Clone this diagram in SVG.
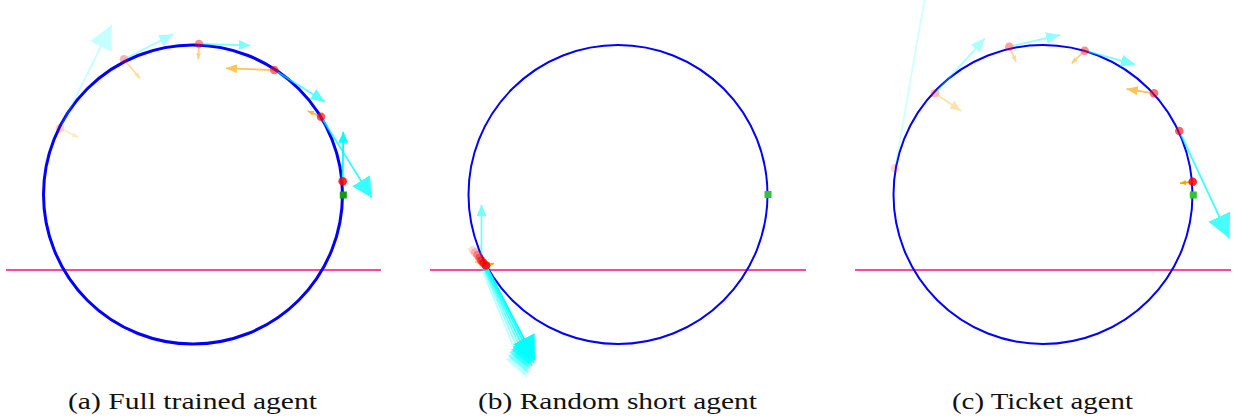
<svg xmlns="http://www.w3.org/2000/svg" width="1233" height="418" viewBox="0 0 1233 418">
<style>
.bg{fill:#ffffff}
.orbit{fill:none;stroke:#0000ff;stroke-width:2}
.orbit-a{fill:none;stroke:#0000ff;stroke-width:3}
.floor{stroke:#ff0a7a;stroke-width:1.3}
.vel{stroke:#00ffff;stroke-width:1.8;fill:none}
.frc{stroke:#ffa500;stroke-width:1.8;fill:none}
.pos{fill:#ff0000;fill-opacity:0.85}
.goal{fill:#33c433}
.goal-a{fill:#149a14}
.cap{font-family:'Liberation Serif','Times New Roman',serif;font-size:24px;fill:#111111;text-anchor:middle}
</style>
<defs>
<marker id="cXL" viewBox="0 0 24 24" refX="24" refY="12" markerWidth="24" markerHeight="24" markerUnits="userSpaceOnUse" orient="auto"><path d="M0,0 L24,12 L0,24 z" fill="#00ffff"/></marker>
<marker id="cL" viewBox="0 0 20 21" refX="20" refY="10.5" markerWidth="20" markerHeight="21" markerUnits="userSpaceOnUse" orient="auto"><path d="M0,0 L20,10.5 L0,21 z" fill="#00ffff"/></marker>
<marker id="cM" viewBox="0 0 14 12" refX="14" refY="6" markerWidth="14" markerHeight="12" markerUnits="userSpaceOnUse" orient="auto"><path d="M0,0 L14,6 L0,12 z" fill="#00ffff"/></marker>
<marker id="cS" viewBox="0 0 11 10" refX="11" refY="5" markerWidth="11" markerHeight="10" markerUnits="userSpaceOnUse" orient="auto"><path d="M0,0 L11,5 L0,10 z" fill="#00ffff"/></marker>
<marker id="oM" viewBox="0 0 11 9" refX="11" refY="4.5" markerWidth="11" markerHeight="9" markerUnits="userSpaceOnUse" orient="auto"><path d="M0,0 L11,4.5 L0,9 z" fill="#ffa500"/></marker>
<marker id="oS" viewBox="0 0 6 5" refX="6" refY="2.5" markerWidth="6" markerHeight="5" markerUnits="userSpaceOnUse" orient="auto"><path d="M0,0 L6,2.5 L0,5 z" fill="#ffa500"/></marker>
</defs>
<rect class="bg" x="0" y="0" width="1233" height="418"/>

<!-- Panel (a) -->
<g id="panel-a">
  <line class="floor" x1="6" y1="270" x2="381" y2="270"/>
  <circle class="orbit-a" cx="193" cy="194.5" r="149.5"/>
  <g id="a-t1" opacity="0.22">
    <line class="vel" x1="60" y1="128.3" x2="111.7" y2="25" marker-end="url(#cXL)"/>
    <line class="frc" x1="60" y1="128.3" x2="78.3" y2="137.3" marker-end="url(#oS)"/>
    <circle class="pos" cx="60" cy="128.3" r="4.3"/>
  </g>
  <g id="a-t2" opacity="0.35">
    <line class="vel" x1="124" y1="59.3" x2="173.3" y2="34.3" marker-end="url(#cM)"/>
    <line class="frc" x1="124" y1="59.3" x2="140" y2="78.3" marker-end="url(#oS)"/>
    <circle class="pos" cx="124" cy="59.3" r="4.3"/>
  </g>
  <g id="a-t3" opacity="0.5">
    <line class="vel" x1="199" y1="44" x2="250" y2="45.3" marker-end="url(#cS)"/>
    <line class="frc" x1="199" y1="44" x2="198.3" y2="59.3" marker-end="url(#oS)"/>
    <circle class="pos" cx="199" cy="44" r="4.3"/>
  </g>
  <g id="a-t4" opacity="0.65">
    <line class="vel" x1="274.3" y1="70" x2="325" y2="101.7" marker-end="url(#cM)"/>
    <line class="frc" x1="274.3" y1="70" x2="226" y2="68.3" marker-end="url(#oM)"/>
    <circle class="pos" cx="274.3" cy="70" r="4.3"/>
  </g>
  <g id="a-t5" opacity="0.78">
    <line class="vel" x1="321" y1="116.7" x2="371.7" y2="197.7" marker-end="url(#cL)"/>
    <line class="frc" x1="321" y1="116.7" x2="307.7" y2="111" marker-end="url(#oS)"/>
    <circle class="pos" cx="321" cy="116.7" r="4.3"/>
  </g>
  <g id="a-t6" opacity="1">
    <line class="vel" x1="342.7" y1="181.3" x2="343.3" y2="131.7" marker-end="url(#cS)"/>
    <circle class="pos" cx="342.7" cy="181.3" r="4.3"/>
  </g>
  <rect class="goal-a" x="339.8" y="191.5" width="7" height="7"/>
  <text class="cap" font-family="Liberation Serif, serif" x="192.5" y="409" textLength="249" lengthAdjust="spacingAndGlyphs">(a) Full trained agent</text>
</g>

<!-- Panel (b) -->
<g id="panel-b">
  <line class="floor" x1="430" y1="270" x2="806" y2="270"/>
  <circle class="orbit" cx="618" cy="194.5" r="149.5"/>
  <g id="b-t1" opacity="0.15">
    <line class="frc" x1="473" y1="250" x2="467" y2="249" marker-end="url(#oS)"/>
    <circle class="pos" cx="473" cy="250" r="4.3"/>
  </g>
  <g id="b-t2" opacity="0.25">
    <line class="vel" x1="475" y1="252.5" x2="526" y2="377" marker-end="url(#cXL)"/>
    <circle class="pos" cx="475" cy="252.5" r="4.3"/>
  </g>
  <g id="b-t3" opacity="0.4">
    <line class="vel" x1="477.5" y1="255" x2="528" y2="373" marker-end="url(#cXL)"/>
    <circle class="pos" cx="477.5" cy="255" r="4.3"/>
  </g>
  <g id="b-t4" opacity="0.55">
    <line class="vel" x1="481.5" y1="257" x2="481.5" y2="205" marker-end="url(#cS)"/>
    <line class="vel" x1="479.5" y1="258" x2="530" y2="369" marker-end="url(#cXL)"/>
    <line class="frc" x1="481" y1="263" x2="475" y2="262" marker-end="url(#oS)"/>
    <circle class="pos" cx="479.5" cy="258" r="4.3"/>
  </g>
  <g id="b-t5" opacity="0.7">
    <line class="vel" x1="481.5" y1="260.5" x2="532" y2="366" marker-end="url(#cXL)"/>
    <circle class="pos" cx="481.5" cy="260.5" r="4.3"/>
  </g>
  <g id="b-t6" opacity="0.85">
    <line class="vel" x1="483.5" y1="263" x2="534" y2="363" marker-end="url(#cXL)"/>
    <circle class="pos" cx="483.5" cy="263" r="4.3"/>
  </g>
  <g id="b-t7" opacity="1">
    <line class="vel" x1="486" y1="265.5" x2="535" y2="360" marker-end="url(#cXL)"/>
    <line class="frc" x1="486" y1="265.5" x2="494" y2="263.5" marker-end="url(#oS)"/>
    <circle class="pos" cx="486" cy="265.5" r="4.3"/>
  </g>
  <rect class="goal" x="764.5" y="191" width="7" height="7"/>
  <text class="cap" font-family="Liberation Serif, serif" x="617.5" y="409" textLength="279" lengthAdjust="spacingAndGlyphs">(b) Random short agent</text>
</g>

<!-- Panel (c) -->
<g id="panel-c">
  <line class="floor" x1="855" y1="270" x2="1231" y2="270"/>
  <circle class="orbit" cx="1043" cy="194.5" r="149.5"/>
  <g id="c-t1" opacity="0.18">
    <line class="vel" x1="895" y1="168.3" x2="929" y2="-26"/>
    <circle class="pos" cx="895" cy="168.3" r="4.3"/>
  </g>
  <g id="c-t2" opacity="0.32">
    <line class="vel" x1="935" y1="93.3" x2="985" y2="38.3" marker-end="url(#cM)"/>
    <line class="frc" x1="935" y1="93.3" x2="961" y2="111" marker-end="url(#oM)"/>
    <circle class="pos" cx="935" cy="93.3" r="4.3"/>
  </g>
  <g id="c-t3" opacity="0.42">
    <line class="vel" x1="1009.3" y1="46.7" x2="1060" y2="35" marker-end="url(#cM)"/>
    <line class="frc" x1="1009.3" y1="46.7" x2="1016" y2="61.7" marker-end="url(#oS)"/>
    <circle class="pos" cx="1009.3" cy="46.7" r="4.3"/>
  </g>
  <g id="c-t4" opacity="0.52">
    <line class="vel" x1="1084.7" y1="50.7" x2="1135" y2="64.3" marker-end="url(#cM)"/>
    <line class="frc" x1="1084.7" y1="50.7" x2="1071.7" y2="63.3" marker-end="url(#oS)"/>
    <circle class="pos" cx="1084.7" cy="50.7" r="4.3"/>
  </g>
  <g id="c-t5" opacity="0.65">
    <line class="frc" x1="1154" y1="93.3" x2="1126.7" y2="89" marker-end="url(#oM)"/>
    <circle class="pos" cx="1154" cy="93.3" r="4.3"/>
  </g>
  <g id="c-t6" opacity="0.72">
    <line class="vel" x1="1179.3" y1="131" x2="1229.5" y2="238.5" marker-end="url(#cXL)"/>
    <circle class="pos" cx="1179.3" cy="131" r="4.3"/>
  </g>
  <g id="c-t7" opacity="1">
    <line class="frc" x1="1192.7" y1="181.7" x2="1180" y2="183.3" marker-end="url(#oS)"/>
    <circle class="pos" cx="1192.7" cy="181.7" r="4.3"/>
  </g>
  <rect class="goal" x="1189.8" y="191.5" width="7" height="7"/>
  <text class="cap" font-family="Liberation Serif, serif" x="1042.5" y="409" textLength="181" lengthAdjust="spacingAndGlyphs">(c) Ticket agent</text>
</g>
</svg>
